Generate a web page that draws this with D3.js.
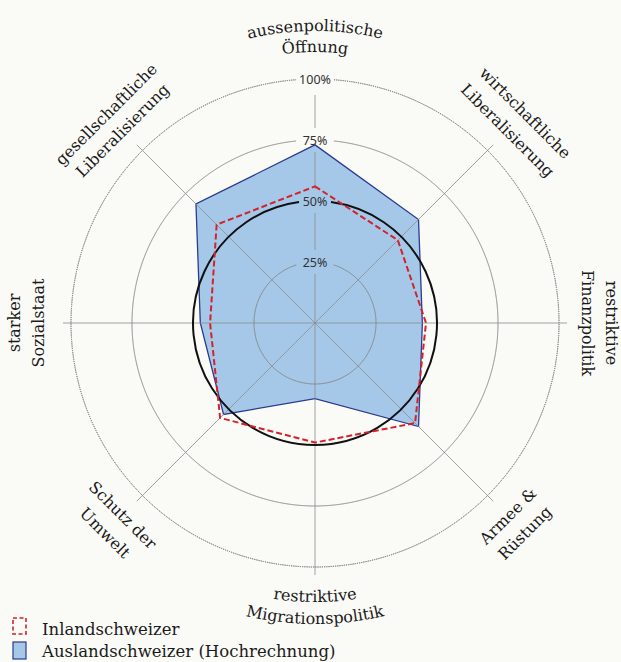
<!DOCTYPE html>
<html>
<head>
<meta charset="utf-8">
<script src="https://cdn.jsdelivr.net/npm/d3@7"></script>
<style>
  body { margin: 0; background: #fafaf7; }
  svg { display: block; }
</style>
</head>
<body>
<div id="chart"></div>
<script>
// axis labels, clockwise from the top, one array per text line
let axisLabels = [
    ["aussenpolitische", "Öffnung"],
    ["wirtschaftliche", "Liberalisierung"],
    ["restriktive", "Finanzpolitik"],
    ["Armee &", "Rüstung"],
    ["restriktive", "Migrationspolitik"],
    ["Schutz der", "Umwelt"],
    ["starker", "Sozialstaat"],
    ["gesellschaftliche", "Liberalisierung"]
];

// values in percent, same order as the axes
let inlandValues = [56, 48, 45.5, 58, 49, 55, 43, 57];
let auslandValues = [73, 60, 44, 60, 31, 53, 47, 69];

let ringTicks = [25, 50, 75, 100];
let legendLabels = ["Inlandschweizer", "Auslandschweizer (Hochrechnung)"];

// chart size
let svgWidth = 621;
let svgHeight = 662;
let cx = 315, cy = 323;
let R = 244;

let svg = d3.select("#chart")
    .append("svg")
    .attr("width", svgWidth)
    .attr("height", svgHeight);

svg.append("rect")
    .attr("width", svgWidth)
    .attr("height", svgHeight)
    .attr("fill", "#fafaf7");

let g = svg.append("g")
    .attr("transform", `translate(${cx}, ${cy})`);

let rScale = d3.scaleLinear().domain([0, 100]).range([0, R]);
let angleScale = d3.scaleLinear().domain([0, axisLabels.length]).range([0, 2 * Math.PI]);

// x/y for an axis index and radius (angle 0 = up, clockwise)
function pos(i, r) {
    let a = angleScale(i);
    return [r * Math.sin(a), -r * Math.cos(a)];
}

let radialLine = d3.lineRadial()
    .angle((d, i) => angleScale(i))
    .radius(d => rScale(d))
    .curve(d3.curveLinearClosed);

// blue area first, grid drawn over it
g.append("path")
    .datum(auslandValues)
    .attr("d", radialLine)
    .attr("fill", "#a5c8e8")
    .attr("stroke", "#2b3b8e")
    .attr("stroke-width", 1.3)
    .attr("stroke-linejoin", "miter");

// axes
let axisEnd = rScale(103.3);
let axisGroup = g.append("g");
axisLabels.forEach((d, i) => {
    if (i === 0) return;
    let p = pos(i, axisEnd);
    axisGroup.append("line")
        .attr("x1", 0).attr("y1", 0)
        .attr("x2", p[0]).attr("y2", p[1])
        .attr("stroke", "#8c8c8c")
        .attr("stroke-width", 0.8);
});
// top axis, broken where the percent labels sit
let gap = 12;
let topStops = [0, rScale(25) - gap, rScale(25) + gap, rScale(50) - gap, rScale(50) + gap,
                rScale(75) - gap, rScale(75) + gap, rScale(100) - 16];
for (let k = 0; k < topStops.length; k += 2) {
    axisGroup.append("line")
        .attr("x1", 0).attr("y1", -topStops[k])
        .attr("x2", 0).attr("y2", -topStops[k + 1])
        .attr("stroke", "#8c8c8c")
        .attr("stroke-width", 0.8);
}

// rings, open at the top for the labels
let arc = d3.arc();
ringTicks.forEach(t => {
    let r = rScale(t);
    let half = (t === 50 ? 16 : 19) / r;
    g.append("path")
        .attr("d", arc({innerRadius: r, outerRadius: r, startAngle: half, endAngle: 2 * Math.PI - half}))
        .attr("fill", "none")
        .attr("stroke", t === 50 ? "#111" : "#858585")
        .attr("stroke-width", t === 50 ? 2 : 0.9)
        .attr("stroke-dasharray", t === 50 ? null : "1.2 1");
});

// red dashed line
g.append("path")
    .datum(inlandValues)
    .attr("d", radialLine)
    .attr("fill", "none")
    .attr("stroke", "#d3222b")
    .attr("stroke-width", 2)
    .attr("stroke-dasharray", "6 3")
    .attr("stroke-linejoin", "miter");

// percent labels
g.selectAll(".tick")
    .data(ringTicks)
    .enter()
    .append("text")
    .attr("x", 0)
    .attr("y", d => -rScale(d))
    .attr("dy", "0.36em")
    .attr("text-anchor", "middle")
    .attr("font-family", "Noto Sans, sans-serif")
    .attr("font-size", "12.5px")
    .attr("fill", "#333")
    .text(d => d + "%");

// axis labels
let labelFont = "DejaVu Serif, serif";

function arcText(id, r, bottom, text) {
    let d0 = 60 * Math.PI / 180;
    let path;
    if (!bottom) {
        let a1 = -Math.PI / 2 - d0, a2 = -Math.PI / 2 + d0;
        path = `M${r * Math.cos(a1)},${r * Math.sin(a1)} A${r},${r} 0 0 1 ${r * Math.cos(a2)},${r * Math.sin(a2)}`;
    } else {
        let a1 = Math.PI / 2 + d0, a2 = Math.PI / 2 - d0;
        path = `M${r * Math.cos(a1)},${r * Math.sin(a1)} A${r},${r} 0 0 0 ${r * Math.cos(a2)},${r * Math.sin(a2)}`;
    }
    g.append("path").attr("id", id).attr("d", path).attr("fill", "none");
    g.append("text")
        .attr("font-family", labelFont)
        .attr("font-size", "16px")
        .attr("fill", "#1a1a1a")
        .append("textPath")
        .attr("href", "#" + id)
        .attr("startOffset", "50%")
        .attr("text-anchor", "middle")
        .text(text);
}

// top: first line outside, baseline on the inner side
arcText("lab0a", 292, false, axisLabels[0][0]);
arcText("lab0b", 271, false, axisLabels[0][1]);
// bottom: first line inside, baseline on the outer side
arcText("lab4a", 279, true, axisLabels[4][0]);
arcText("lab4b", 301, true, axisLabels[4][1]);

// the rest are straight rotated lines
let straightLabels = [
    {i: 1, rot: 45, r: [296, 271]},
    {i: 2, rot: 90, r: [295, 271]},
    {i: 3, rot: -45, r: [274, 298]},
    {i: 5, rot: 45, r: [273, 298]},
    {i: 6, rot: -90, r: [299, 275]},
    {i: 7, rot: -45, r: [294, 271]}
];
straightLabels.forEach(s => {
    axisLabels[s.i].forEach((line, k) => {
        let p = pos(s.i, s.r[k]);
        g.append("text")
            .attr("transform", `translate(${p[0]}, ${p[1]}) rotate(${s.rot})`)
            .attr("dy", "0.27em")
            .attr("text-anchor", "middle")
            .attr("font-family", labelFont)
            .attr("font-size", "16px")
            .attr("fill", "#1a1a1a")
            .text(line);
    });
});

// legend
let legend = svg.append("g").attr("transform", "translate(12, 618)");
legend.append("rect")
    .attr("x", 1).attr("y", 0)
    .attr("width", 13).attr("height", 16)
    .attr("fill", "none")
    .attr("stroke", "#d3222b")
    .attr("stroke-width", 1.6)
    .attr("stroke-dasharray", "4 2.5");
legend.append("rect")
    .attr("x", 1).attr("y", 24)
    .attr("width", 13).attr("height", 17)
    .attr("fill", "#a5c8e8")
    .attr("stroke", "#2b3b8e")
    .attr("stroke-width", 1.2);
legend.selectAll(".leg")
    .data(legendLabels)
    .enter()
    .append("text")
    .attr("x", 30)
    .attr("y", (d, i) => 17 + i * 22)
    .attr("font-family", labelFont)
    .attr("font-size", "16.5px")
    .attr("fill", "#1a1a1a")
    .text(d => d);
</script>
</body>
</html>
